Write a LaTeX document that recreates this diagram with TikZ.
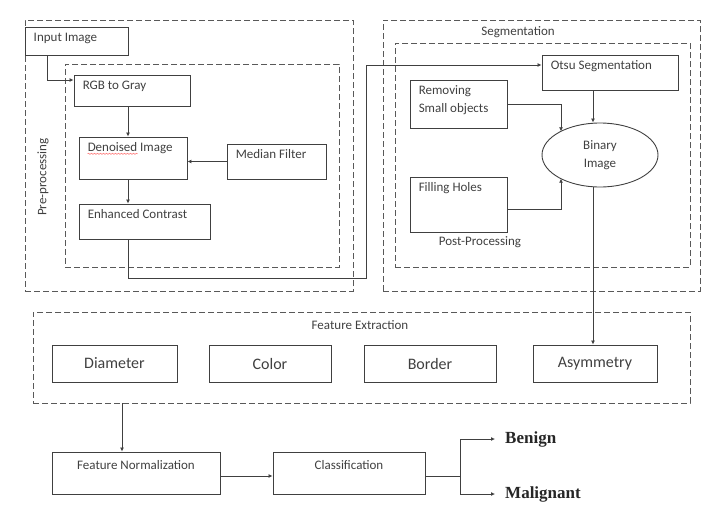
\documentclass[tikz,border=0pt]{standalone}
\usepackage{fontspec}
\setmainfont{Carlito}
\newfontfamily\serifb{Liberation Serif}
\usetikzlibrary{arrows.meta,calc,shapes.geometric,decorations.pathmorphing}
\begin{document}
\begin{tikzpicture}[x=1pt,y=-1pt,
  box/.style={draw=black!75, line width=0.9pt, rectangle, inner sep=0, text=black!75},
  dbox/.style={draw=black!65, line width=0.9pt, dash pattern=on 6pt off 3pt, inner sep=0},
  arr/.style={black!75, line width=0.9pt, -{Latex[length=4pt,width=4pt]}},
  con/.style={black!75, line width=0.9pt},
  sm/.style={font=\fontsize{13}{18}\selectfont, text=black!75},
  big/.style={font=\fontsize{16}{19}\selectfont, text=black!75},
  tlt/.style={anchor=north west, inner sep=0, xshift=9pt, yshift=-6pt, align=left, sm},
  tl/.style={label={[tlt]north west:#1}},
  tc/.style={label={[anchor=north, inner sep=0, yshift=-9pt, sm]north:#1}},
  res/.style={anchor=west, inner xsep=10pt, inner ysep=0, font=\serifb\bfseries\fontsize{17}{20}\selectfont, text=black!85}
]
\useasboundingbox (0,0) rectangle (713,504);

% dashed groups
\node[dbox, minimum width=328, minimum height=271] (pre) at (189,155.5) {};
\node[dbox, minimum width=274, minimum height=203] (prein) at (202,165.5) {};
\node[dbox, minimum width=317, minimum height=271] (seg) at (541.5,155.5) {};
\node[dbox, minimum width=295, minimum height=224] (segin) at (542.5,155) {};
\node[dbox, minimum width=657, minimum height=91] (fe) at (361.5,357.5) {};

% group labels
\node[sm, rotate=90] (prel) at (43,177) {Pre-processing};
\node[sm] (segl) at (518,32) {Segmentation};
\node[sm] (ppl) at (480,242) {Post-Processing};
\node[sm] (fel) at (360,325) {Feature Extraction};

% pre-processing boxes
\node[box, minimum width=103, minimum height=28, tl={Input Image}] (ii) at (76.5,41) {};
\node[box, minimum width=116, minimum height=31, tl={RGB to Gray}] (rgb) at (132,90.5) {};
\node[box, minimum width=108, minimum height=42, label={[tlt,name=dnl]north west:Denoised Image}] (dn) at (133,158) {};
\node[box, minimum width=99, minimum height=35, tl={Median Filter}] (mf) at (276.5,161.5) {};
\node[box, minimum width=131, minimum height=35, tl={Enhanced Contrast}] (ec) at (144.5,221.5) {};
\draw[red!60, line width=0.5pt, decorate, decoration={snake, amplitude=0.6pt, segment length=3pt}]
  ($(dnl.base west)+(0,2)$) -- ($(dnl.base west)+(50,2)$);

% segmentation boxes
\node[box, minimum width=136, minimum height=35, tl={Otsu Segmentation}] (otsu) at (610,72.5) {};
\node[box, minimum width=97, minimum height=48, tl={Removing\\Small objects}] (rem) at (458.5,104) {};
\node[box, minimum width=97, minimum height=55, tl={Filling Holes}] (fh) at (458.5,204.5) {};
\node[draw=black!75, line width=0.9pt, ellipse, inner sep=0, minimum width=116, minimum height=64, align=center, sm] (bin) at (600,155) {Binary\\Image};

% feature boxes
\node[box, big, minimum width=125, minimum height=37] (dia) at (114.5,363.5) {Diameter};
\node[box, big, minimum width=122, minimum height=37] (col) at (270,363.5) {Color};
\node[box, big, minimum width=132, minimum height=37] (bor) at (430,363.5) {Border};
\node[box, big, minimum width=124, minimum height=37] (asy) at (595,363.5) {Asymmetry};

% classification
\node[box, minimum width=168, minimum height=42, tc={Feature Normalization}] (fn) at (136,473) {};
\node[box, minimum width=152, minimum height=42, tc={Classification}] (cls) at (349,473) {};
\node[res] (ben) at (495,439) {Benign};
\node[res] (mal) at (495,494) {Malignant};

% connectors
\draw[arr] ([xshift=23pt]ii.south west) |- ([yshift=10.5pt]rgb.west);
\draw[arr] ([xshift=-4pt]rgb.south) -- ([xshift=-4pt]rgb.south |- dn.north);
\draw[arr] (mf.west) -- (mf.west -| dn.east);
\draw[arr] ([xshift=-5pt]dn.south) -- ([xshift=-5pt]dn.south |- ec.north);
\draw[arr] ([xshift=-16.5pt]ec.south) -- ++(0,39) -| ([xshift=-175pt,yshift=7.5pt]otsu.west) -- ([yshift=7.5pt]otsu.west);
\draw[arr] ([xshift=-17pt]otsu.south) -- ([xshift=-17pt]otsu.south |- bin.north);
\draw[arr] (rem.east) -| ($(bin.center)+(-39,-23.7)$);
\draw[arr] ([yshift=-4.5pt]fh.east) -| ($(bin.center)+(-39,23.7)$);
\draw[arr] ([xshift=-7pt]bin.south) -- ([xshift=-7pt]bin.south |- asy.north);
\draw[arr] ([xshift=-14pt]fn.north |- fe.south) -- ([xshift=-14pt]fn.north);
\draw[arr] ([yshift=-3pt]fn.east) -- ([yshift=-3pt]fn.east -| cls.west);
\draw[con] ([yshift=-3pt]cls.east) -- ++(35,0) coordinate (br);
\draw[arr] (br) |- (ben.west);
\draw[arr] (br) |- (mal.west);
\end{tikzpicture}
\end{document}
